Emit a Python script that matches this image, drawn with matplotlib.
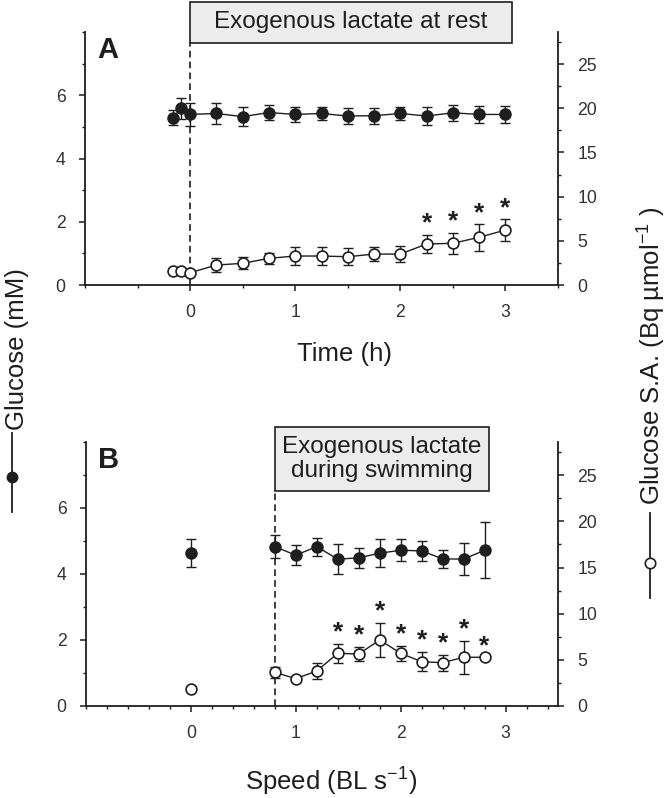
import numpy as np
import matplotlib
matplotlib.use("Agg")
import matplotlib.pyplot as plt
from matplotlib.lines import Line2D
from matplotlib.patches import Rectangle
from matplotlib.ticker import MultipleLocator
import matplotlib.transforms as mtransforms

plt.rcParams['font.family'] = ['Liberation Sans', 'DejaVu Sans']
plt.rcParams['mathtext.fontset'] = 'custom'
plt.rcParams['mathtext.rm'] = 'Liberation Sans'
plt.rcParams['mathtext.default'] = 'regular'

# Panel A: exogenous lactate at rest
time_a = [-0.167, -0.083, 0, 0.25, 0.5, 0.75, 1.0, 1.25, 1.5, 1.75, 2.0, 2.25, 2.5, 2.75, 3.0]
glc_a = [5.30, 5.59, 5.40, 5.43, 5.33, 5.46, 5.40, 5.43, 5.35, 5.36, 5.43, 5.35, 5.45, 5.40, 5.40]
glc_a_err = [0.25, 0.32, 0.36, 0.33, 0.30, 0.25, 0.25, 0.21, 0.26, 0.25, 0.22, 0.29, 0.26, 0.26, 0.26]
sa_a = [1.62, 1.62, 1.39, 2.26, 2.45, 3.02, 3.28, 3.28, 3.20, 3.50, 3.50, 4.64, 4.72, 5.40, 6.22]
sa_a_err = [0, 0, 0, 0.75, 0.67, 0.6, 1.0, 1.0, 0.96, 0.83, 0.93, 1.05, 1.2, 1.5, 1.2]
sig_a = [2.25, 2.5, 2.75, 3.0]

# Panel B: exogenous lactate during swimming
speed_b = [0, 0.8, 1.0, 1.2, 1.4, 1.6, 1.8, 2.0, 2.2, 2.4, 2.6, 2.8]
glc_b = [4.64, 4.83, 4.57, 4.83, 4.45, 4.49, 4.63, 4.72, 4.70, 4.46, 4.45, 4.72]
glc_b_err = [0.42, 0.35, 0.30, 0.27, 0.45, 0.30, 0.43, 0.33, 0.30, 0.27, 0.48, 0.85]
sa_b = [1.81, 3.65, 2.96, 3.79, 5.71, 5.63, 7.15, 5.71, 4.80, 4.69, 5.28, 5.28]
sa_b_err = [0, 0.6, 0, 0.88, 1.04, 0.79, 1.89, 0.82, 1.06, 0.86, 1.8, 0]
sig_b = [1.4, 1.6, 1.8, 2.0, 2.2, 2.4, 2.6, 2.8]

ink = '#1e1e1e'
W, H = 670, 798

fig = plt.figure(figsize=(6.7, 7.98), dpi=100)
axA = fig.add_axes([85 / W, 1 - 285 / H, 473 / W, 252.7 / H])
axB = fig.add_axes([86 / W, 1 - 706 / H, 472 / W, 264 / H])


def style_axes(ax, ax2, minor_x):
    ax.set_xlim(-1, 3.5)
    ax.set_ylim(0, 8)
    ax2.set_ylim(0, 28.6)
    for a in (ax, ax2):
        a.spines['top'].set_visible(False)
        for s in a.spines.values():
            s.set_linewidth(1.3)
            s.set_color(ink)
        a.tick_params(which='major', length=4, width=1.1, color=ink,
                      labelsize=12.7, labelcolor='#333333', pad=10)
        a.tick_params(which='minor', length=2.5, width=1.0, color=ink)
    ax.spines['right'].set_visible(False)
    ax2.spines['left'].set_visible(False)
    ax2.spines['bottom'].set_visible(False)
    ax.xaxis.set_major_locator(MultipleLocator(1))
    ax.xaxis.set_minor_locator(MultipleLocator(minor_x))
    ax.set_xticks([0, 1, 2, 3])
    ax.yaxis.set_major_locator(MultipleLocator(2))
    ax.yaxis.set_minor_locator(MultipleLocator(1))
    ax.set_yticks([0, 2, 4, 6])
    ax2.set_yticks([0, 5, 10, 15, 20, 25])
    ax2.yaxis.set_minor_locator(MultipleLocator(2.5))


def series(ax, x, y, err, face, connect=True):
    ax.errorbar(x, y, yerr=err, fmt='none', ecolor=ink, elinewidth=1.0,
                capsize=3.8, capthick=1.0, zorder=3)
    ax.plot(x, y, marker='o', linestyle='-' if connect else 'none', color=ink,
            mfc=face, mec=ink, ms=7.8, mew=1.2, lw=1.0, zorder=4)


def stars(ax, x, y, err, sig):
    for xs in sig:
        i = x.index(xs)
        ax.annotate('*', (x[i], y[i] + err[i]), xytext=(0, 3), textcoords='offset points',
                    ha='center', va='baseline', fontsize=19, fontweight='bold',
                    color=ink, zorder=5)


def lactate_box(ax, x0, x1, y0, y1, text):
    trans = mtransforms.blended_transform_factory(ax.transData, ax.transAxes)
    ax.add_patch(Rectangle((x0, y0), x1 - x0, y1 - y0, transform=trans, clip_on=False,
                           facecolor='#ececec', edgecolor=ink, lw=1.2, zorder=6))
    ax.text((x0 + x1) / 2, (y0 + y1) / 2, text, transform=trans, ha='center', va='center',
            fontsize=17.5, color=ink, linespacing=1.1, zorder=7)
    ax.plot([x0, x0], [0, y0], transform=trans, color=ink, lw=1.2,
            linestyle=(0, (4, 2.5)), clip_on=False, zorder=2)


# ---- Panel A ----
axA2 = axA.twinx()
axA2.set_position(axA.get_position())
style_axes(axA, axA2, 0.5)
series(axA, time_a, glc_a, glc_a_err, ink)
series(axA2, time_a, sa_a, sa_a_err, 'white')
stars(axA2, time_a, sa_a, sa_a_err, sig_a)
lactate_box(axA, 0, 3.06, 0.958, 1.12, 'Exogenous lactate at rest')
axA.text(0.025, 0.985, 'A', transform=axA.transAxes, fontsize=21, fontweight='bold',
         ha='left', va='top', color=ink)
axA.set_xlabel('Time (h)', fontsize=18.5, color=ink)
axA.xaxis.set_label_coords(0.548, -0.225)

# ---- Panel B ----
axB2 = axB.twinx()
axB2.set_position(axB.get_position())
style_axes(axB, axB2, 0.2)
series(axB, speed_b[:1], glc_b[:1], glc_b_err[:1], ink, connect=False)
series(axB, speed_b[1:], glc_b[1:], glc_b_err[1:], ink)
series(axB2, speed_b[:1], sa_b[:1], sa_b_err[:1], 'white', connect=False)
series(axB2, speed_b[1:], sa_b[1:], sa_b_err[1:], 'white')
stars(axB2, speed_b, sa_b, sa_b_err, sig_b)
lactate_box(axB, 0.8, 2.84, 0.814, 1.057, 'Exogenous lactate\nduring swimming')
axB.text(0.025, 0.985, 'B', transform=axB.transAxes, fontsize=21, fontweight='bold',
         ha='left', va='top', color=ink)
axB.set_xlabel('Speed (BL s$^{-1}$)', fontsize=18.5, color=ink)
axB.xaxis.set_label_coords(0.519, -0.225)

# ---- shared axis titles with symbol keys ----
fig.text(17 / W, 1 - 430 / H, 'Glucose (mM)', rotation=90, ha='center', va='bottom',
         fontsize=18.5, color=ink)
fig.add_artist(Line2D([12 / W, 12 / W], [1 - 512 / H, 1 - 433 / H], transform=fig.transFigure,
                      color=ink, lw=1.3))
fig.add_artist(Line2D([12 / W], [1 - 477 / H], transform=fig.transFigure, marker='o',
                      color=ink, mfc=ink, ms=7.5, lw=0))

fig.text(652 / W, 1 - 505 / H, 'Glucose S.A. (Bq µmol$^{-1}$ )', rotation=90, ha='center',
         va='bottom', fontsize=18.5, color=ink)
fig.add_artist(Line2D([650 / W, 650 / W], [1 - 598 / H, 1 - 513 / H], transform=fig.transFigure,
                      color=ink, lw=1.3))
fig.add_artist(Line2D([650 / W], [1 - 563 / H], transform=fig.transFigure, marker='o',
                      color=ink, mfc='white', mew=1.2, ms=7.5, lw=0))

fig.savefig('out.png', dpi=100)
